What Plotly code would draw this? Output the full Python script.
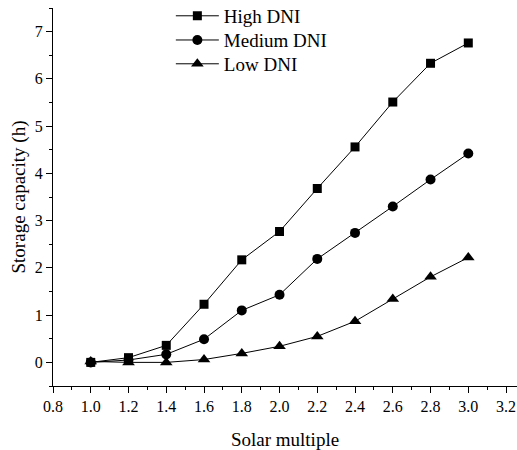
import plotly.graph_objects as go

solar_multiple = [1.0, 1.2, 1.4, 1.6, 1.8, 2.0, 2.2, 2.4, 2.6, 2.8, 3.0]
high_dni = [0.0, 0.10, 0.36, 1.23, 2.17, 2.77, 3.68, 4.56, 5.51, 6.33, 6.76]
medium_dni = [0.0, 0.05, 0.17, 0.49, 1.10, 1.43, 2.19, 2.74, 3.30, 3.87, 4.42]
low_dni = [0.02, 0.0, 0.0, 0.06, 0.19, 0.34, 0.55, 0.87, 1.34, 1.81, 2.22]
x_ticks = [0.8, 1.0, 1.2, 1.4, 1.6, 1.8, 2.0, 2.2, 2.4, 2.6, 2.8, 3.0, 3.2]
y_ticks = [0, 1, 2, 3, 4, 5, 6, 7]

series = [
    ("High DNI", high_dni, "square", 9, "legend", 0.979),
    ("Medium DNI", medium_dni, "circle", 10, "legend2", 0.915),
    ("Low DNI", low_dni, "triangle-up", 11, "legend3", 0.852),
]

font = "Liberation Serif, Times New Roman, serif"
fig = go.Figure()
legends = {}
for name, vals, sym, sz, leg, ly in series:
    fig.add_trace(go.Scatter(
        x=solar_multiple, y=vals, name=name, mode="lines+markers",
        line=dict(color="black", width=1),
        marker=dict(symbol=sym, size=sz, color="black"),
        legend=leg,
    ))
    legends[leg] = dict(x=0.254, y=ly, xanchor="left", yanchor="middle",
                        bgcolor="rgba(0,0,0,0)", font=dict(size=19, family=font),
                        itemwidth=43)

fig.update_layout(
    width=517, height=450,
    margin=dict(l=53, r=0, t=8, b=64, autoexpand=False),
    plot_bgcolor="white", paper_bgcolor="white",
    font=dict(family=font, size=16, color="black"),
    showlegend=True,
    **legends,
    xaxis=dict(
        range=[0.8, 3.258], showgrid=False, zeroline=False, automargin=False,
        showline=True, linecolor="black", linewidth=1,
        ticks="outside", ticklen=6, tickcolor="black",
        tickmode="array", tickvals=x_ticks,
        tickformat=".1f", ticklabeloverflow="allow",
        minor=dict(dtick=0.1, tick0=0.8, ticks="outside", ticklen=3, tickcolor="black"),
        title=dict(text="Solar multiple", font=dict(size=19, family=font), standoff=19),
        tickfont=dict(size=16, family=font),
    ),
    yaxis=dict(
        range=[-0.5, 7.5], showgrid=False, zeroline=False, automargin=False,
        showline=True, linecolor="black", linewidth=1,
        ticks="outside", ticklen=6, tickcolor="black",
        tickmode="array", tickvals=y_ticks,
        minor=dict(dtick=0.5, tick0=0, ticks="outside", ticklen=3, tickcolor="black"),
        title=dict(text="Storage capacity (h)", font=dict(size=19, family=font), standoff=4),
        tickfont=dict(size=16, family=font),
    ),
)
fig.write_html(
    "out.html",
    config={"displayModeBar": False},
    post_script="document.body.style.margin='0';document.body.style.overflow='hidden';",
)
